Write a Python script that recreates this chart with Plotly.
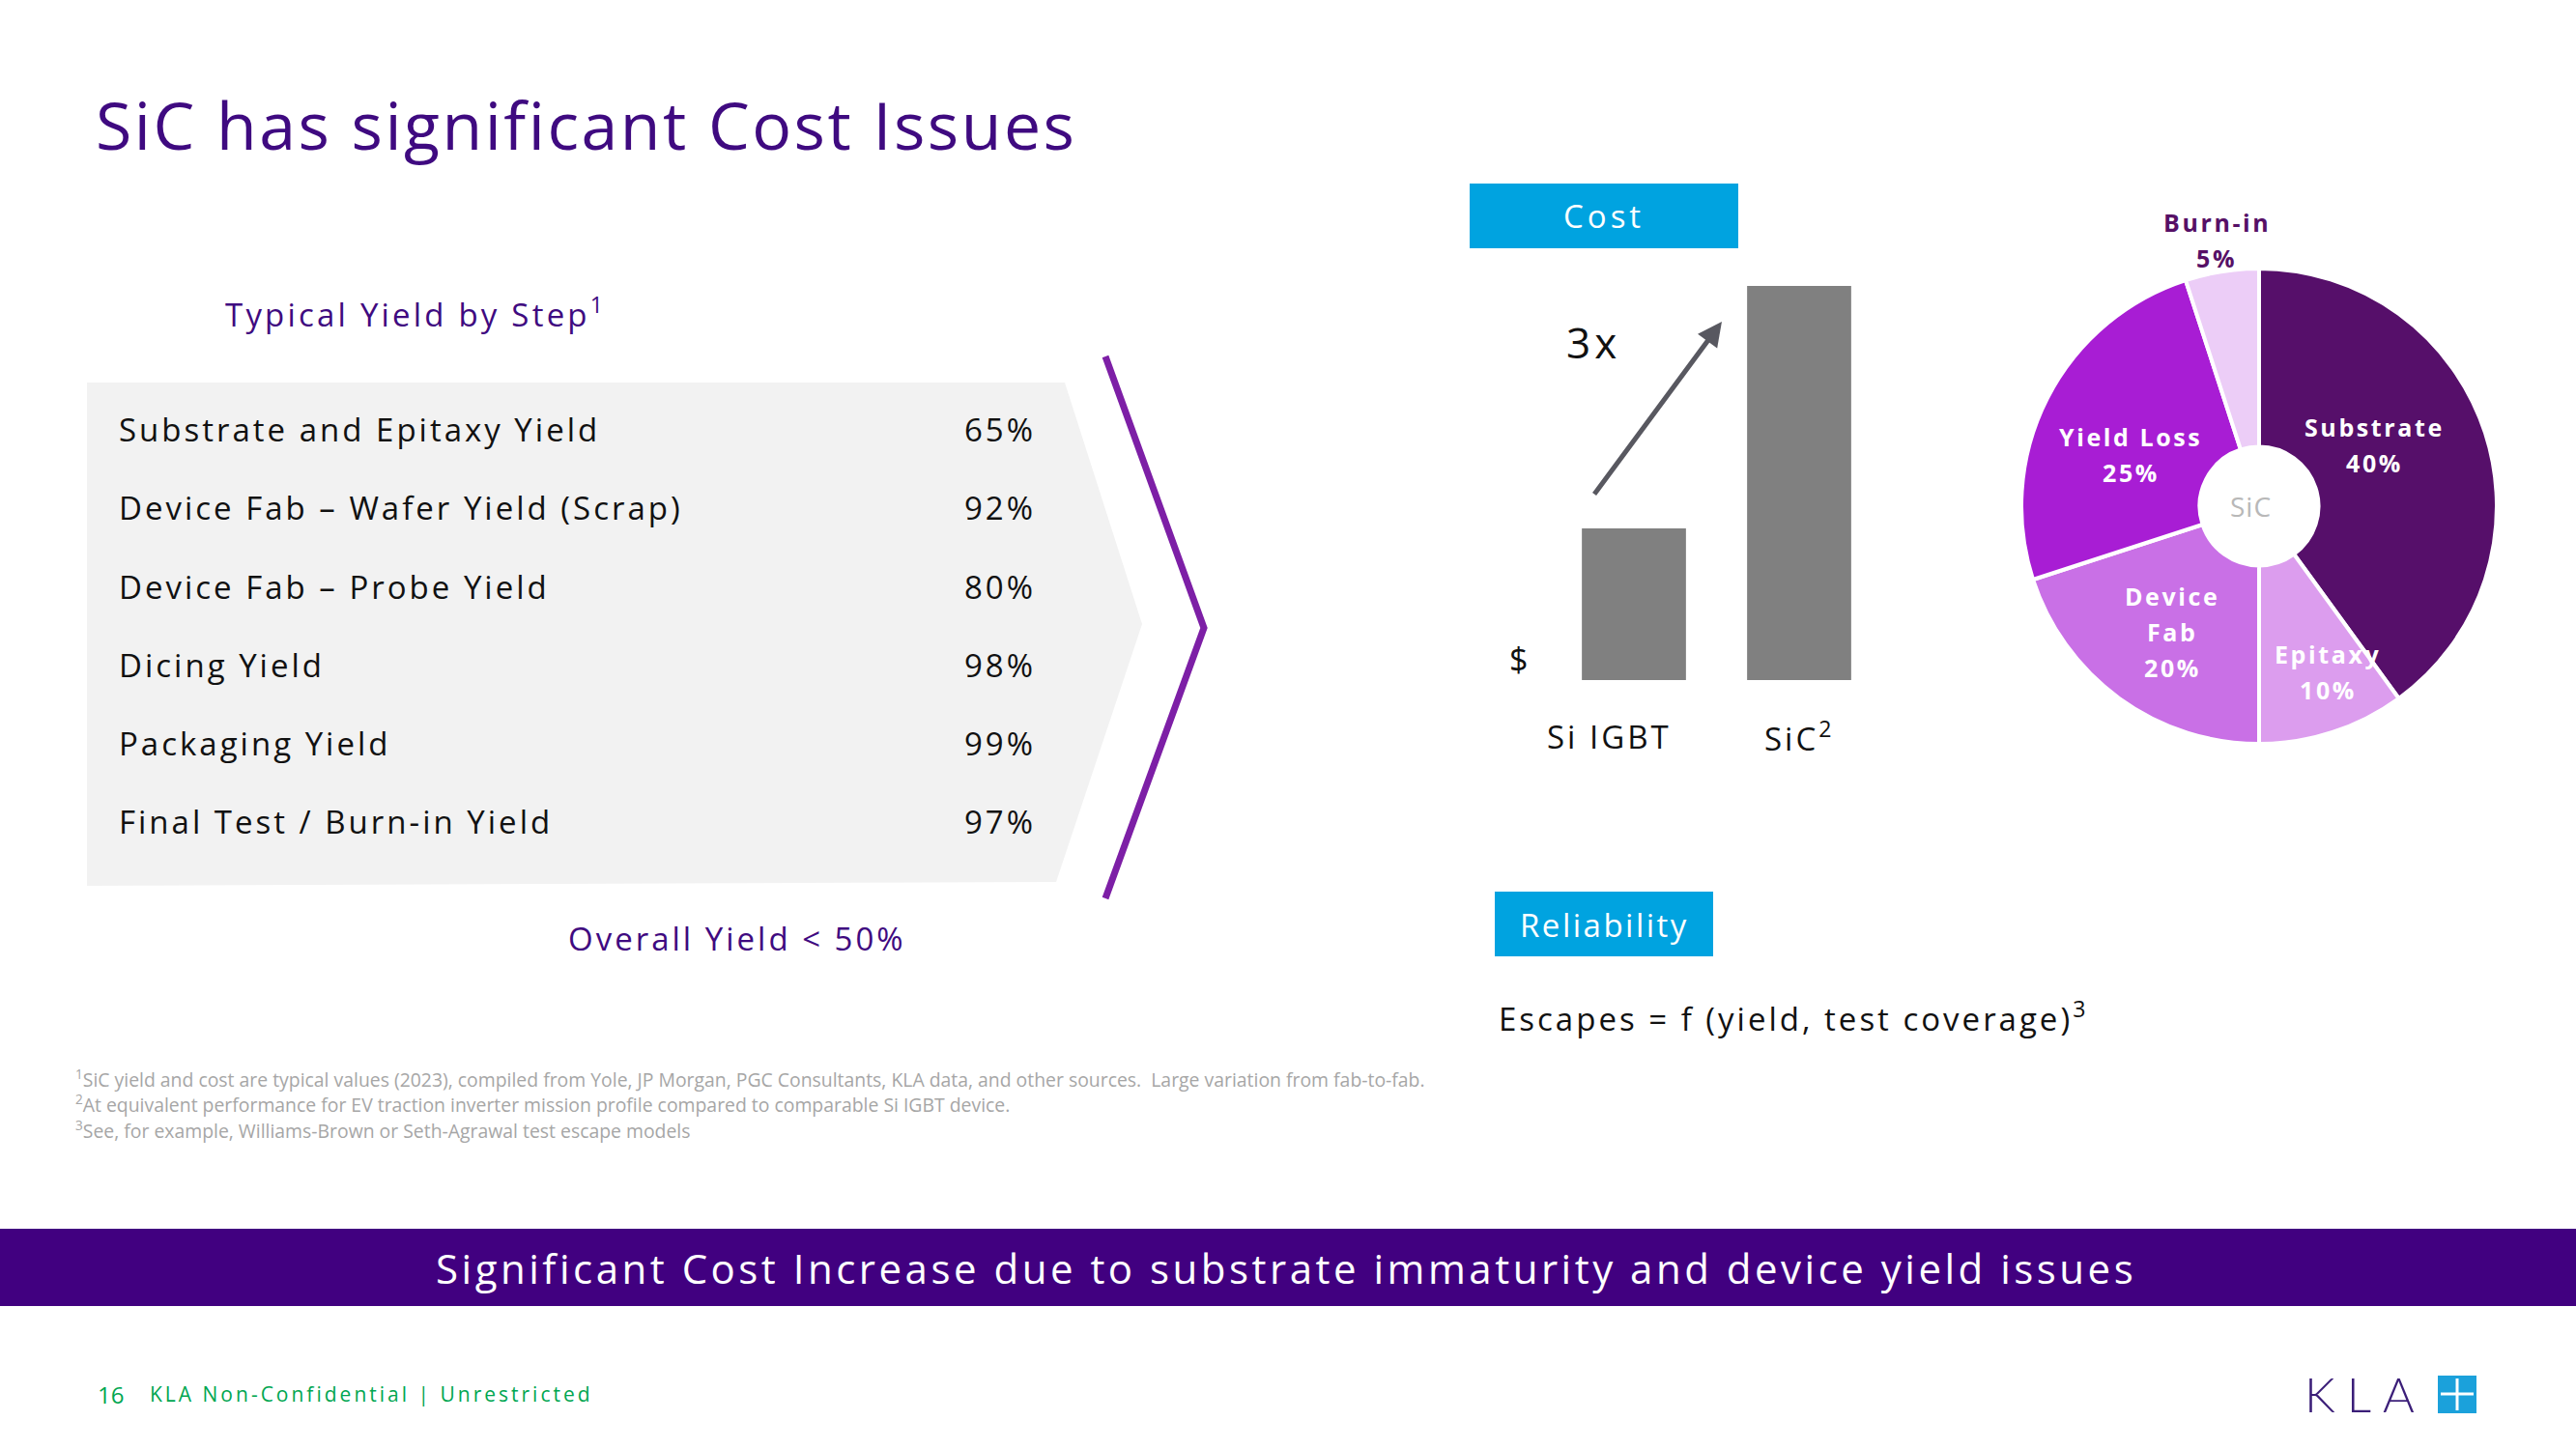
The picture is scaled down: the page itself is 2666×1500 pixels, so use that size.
import plotly.graph_objects as go

W, H = 2666, 1500

# ---------------- data ----------------
yield_steps = ["Substrate and Epitaxy Yield", "Device Fab – Wafer Yield (Scrap)",
               "Device Fab – Probe Yield", "Dicing Yield", "Packaging Yield",
               "Final Test / Burn-in Yield"]
yield_values = [65, 92, 80, 98, 99, 97]

cost_categories = ["Si IGBT", "SiC<sup>2</sup>"]
cost_values = [1.0, 2.6]

pie_labels = ["Substrate", "Epitaxy", "Device Fab", "Yield Loss", "Burn-in"]
pie_label_text = ["Substrate", "Epitaxy", "Device<br>Fab", "Yield Loss", "Burn-in"]
pie_values = [40, 10, 20, 25, 5]
pie_colors = ["#560F6A", "#DC9DEE", "#C970E6", "#A81DD4", "#ECCDF7"]

footnotes = [
    "<sup>1</sup>SiC yield and cost are typical values (2023), compiled from Yole, JP Morgan, PGC Consultants, KLA data, and other sources.  Large variation from fab-to-fab.",
    "<sup>2</sup>At equivalent performance for EV traction inverter mission profile compared to comparable Si IGBT device.",
    "<sup>3</sup>See, for example, Williams-Brown or Seth-Agrawal test escape models",
]

# ---------------- helpers ----------------
def px(x):
    return x / W

def py(y):
    return 1 - y / H

def sp(text, ls):
    return f'<span style="letter-spacing:{ls}px">{text}</span>'

FONT = "Open Sans"
PURPLE = "#3F0A80"
BLUE = "#00A3E0"

fig = go.Figure()

# --- Yield table (scatter text on hidden axes) ---
rows = list(range(len(yield_steps)))
fig.add_trace(go.Scatter(
    x=[0] * len(rows), y=rows, mode="text", text=[sp(s, 3) for s in yield_steps],
    textposition="middle right", textfont=dict(family=FONT, size=33, color="#111111"),
    xaxis="x2", yaxis="y2", hoverinfo="skip", cliponaxis=False))
fig.add_trace(go.Scatter(
    x=[1] * len(rows), y=rows, mode="text", text=[sp(f"{v}%", 3) for v in yield_values],
    textposition="middle left", textfont=dict(family=FONT, size=33, color="#111111"),
    xaxis="x2", yaxis="y2", hoverinfo="skip", cliponaxis=False))

# --- Cost bars ---
fig.add_trace(go.Bar(
    x=cost_categories, y=cost_values, marker=dict(color="#808080", line=dict(width=0)),
    width=0.63, xaxis="x", yaxis="y", hoverinfo="skip"))

# --- Donut ---
fig.add_trace(go.Pie(
    labels=pie_labels, values=pie_values, sort=False, direction="clockwise", rotation=0,
    hole=0.25, marker=dict(colors=pie_colors, line=dict(color="white", width=4)),
    textinfo="none", hoverinfo="skip",
    domain=dict(x=[px(2092), px(2584)], y=[py(770), py(278)])))

# ---------------- shapes ----------------
def path(points, close=True):
    s = "M " + " L ".join(f"{px(x):.5f},{py(y):.5f}" for x, y in points)
    return s + (" Z" if close else "")

shapes = [
    dict(type="path", xref="paper", yref="paper", layer="below",
         path=path([(90, 396), (1102, 396), (1182, 646), (1093, 913), (90, 917)]),
         fillcolor="#F2F2F2", line=dict(width=0)),
    dict(type="path", xref="paper", yref="paper",
         path=path([(1144, 369), (1246, 650), (1144, 930)], close=False),
         line=dict(color="#7D1FA6", width=7)),
    dict(type="rect", xref="paper", yref="paper", x0=px(1521), x1=px(1799), y0=py(257), y1=py(190),
         fillcolor=BLUE, line=dict(width=0)),
    dict(type="rect", xref="paper", yref="paper", x0=px(1547), x1=px(1773), y0=py(990), y1=py(923),
         fillcolor=BLUE, line=dict(width=0)),
    dict(type="rect", xref="paper", yref="paper", x0=0, x1=1, y0=py(1352), y1=py(1272),
         fillcolor="#410080", line=dict(width=0)),
    # KLA logo square with plus
    dict(type="rect", xref="paper", yref="paper", x0=px(2523), x1=px(2563), y0=py(1463), y1=py(1424),
         fillcolor="#1BA1DB", line=dict(width=0)),
    dict(type="line", xref="paper", yref="paper", x0=px(2543), x1=px(2543), y0=py(1460), y1=py(1427),
         line=dict(color="white", width=3)),
    dict(type="line", xref="paper", yref="paper", x0=px(2526), x1=px(2560), y0=py(1443), y1=py(1443),
         line=dict(color="white", width=3)),
]

# ---------------- annotations ----------------
def txt(x, y, text, size, color="#111111", xanchor="left", yanchor="middle", weight=None,
        family=FONT, ls=0):
    f = dict(family=family, size=size, color=color)
    if weight:
        f["weight"] = weight
    t = sp(text, ls) if ls else text
    return dict(x=px(x), y=py(y), xref="paper", yref="paper", text=t, showarrow=False,
                xanchor=xanchor, yanchor=yanchor, font=f, align="center")

ann = [
    txt(97, 128, "SiC has significant Cost Issues", 68, PURPLE, ls=2.5),
    txt(231, 323, "Typical Yield by Step<sup>1</sup>", 33, PURPLE, ls=3.2),
    txt(763, 971, "Overall Yield &lt; 50%", 33, PURPLE, xanchor="center", ls=3),
    txt(1660, 223, "Cost", 33, "white", xanchor="center", ls=4),
    txt(1660, 957, "Reliability", 33, "white", xanchor="center", ls=2.5),
    txt(1549, 1052, "Escapes = f (yield, test coverage)<sup>3</sup>", 33, ls=3),
    txt(1649, 354, "3x", 44, xanchor="center", ls=4),
    txt(1571, 682, "$", 34, xanchor="center"),
    txt(2329, 524, "SiC", 28, "#B8B8B8", xanchor="center", ls=1),
    txt(1331, 1312, "Significant Cost Increase due to substrate immaturity and device yield issues",
        42, "white", xanchor="center", ls=3.5),
    txt(99, 1443, "16", 24, "#00A651"),
    txt(153, 1443, "KLA Non-Confidential | Unrestricted", 21, "#00A651", ls=3),
    txt(2383, 1443, "KLA", 50, "#3B1E78", weight=300, family="Lato", ls=12),
]
for i, f in enumerate(footnotes):
    ann.append(txt(76, 1116 + i * 26.5, f, 19.4, "#A6A6A6"))

# category labels under the bars
for i, (cat, shift) in enumerate(zip(cost_categories, [-26, 0])):
    ann.append(dict(x=i, y=0, xref="x", yref="y", text=sp(cat, 3), showarrow=False,
                    xanchor="center", yanchor="middle", yshift=-58, xshift=shift,
                    font=dict(family=FONT, size=33, color="#111111")))

# pie labels (each line placed separately for the wider line spacing)
pie_pos = [(2457, 460.5), (2409, 695.5), (2248, 654), (2205, 470.5), (2294, 248.5)]
gap = 37
for lab, val, (x, y), c in zip(pie_label_text, pie_values, pie_pos,
                               ["white", "white", "white", "white", "#561066"]):
    lines = lab.split("<br>") + [f"{val}%"]
    y0 = y - gap * (len(lines) - 1) / 2
    for k, line in enumerate(lines):
        ann.append(txt(x, y0 + k * gap, line, 25, c, xanchor="center", weight="bold", ls=2.6))

# arrow on cost chart
ann.append(dict(x=0.532, y=2.364, ax=-0.246, ay=1.217, xref="x", yref="y", axref="x", ayref="y",
                showarrow=True, arrowhead=2, arrowsize=1.0, arrowwidth=5, arrowcolor="#585860",
                text=""))

fig.update_layout(
    width=W, height=H, margin=dict(l=0, r=0, t=0, b=0),
    paper_bgcolor="white", plot_bgcolor="rgba(0,0,0,0)", showlegend=False,
    font=dict(family=FONT),
    xaxis=dict(domain=[px(1605.5), px(1947.5)], range=[-0.5, 1.5], showgrid=False, zeroline=False,
               showline=False, ticks="", showticklabels=False, fixedrange=True),
    yaxis=dict(domain=[py(704), py(233.3)], range=[0, 3], visible=False, fixedrange=True),
    xaxis2=dict(domain=[px(123), px(1072)], range=[0, 1], visible=False, anchor="y2"),
    yaxis2=dict(domain=[py(895.6), py(408.4)], range=[5.5, -0.5], visible=False, anchor="x2"),
    shapes=shapes, annotations=ann,
)

fig.write_html("out.html", config={"displayModeBar": False},
               post_script="document.body.style.margin='0';document.body.style.overflow='hidden';")
